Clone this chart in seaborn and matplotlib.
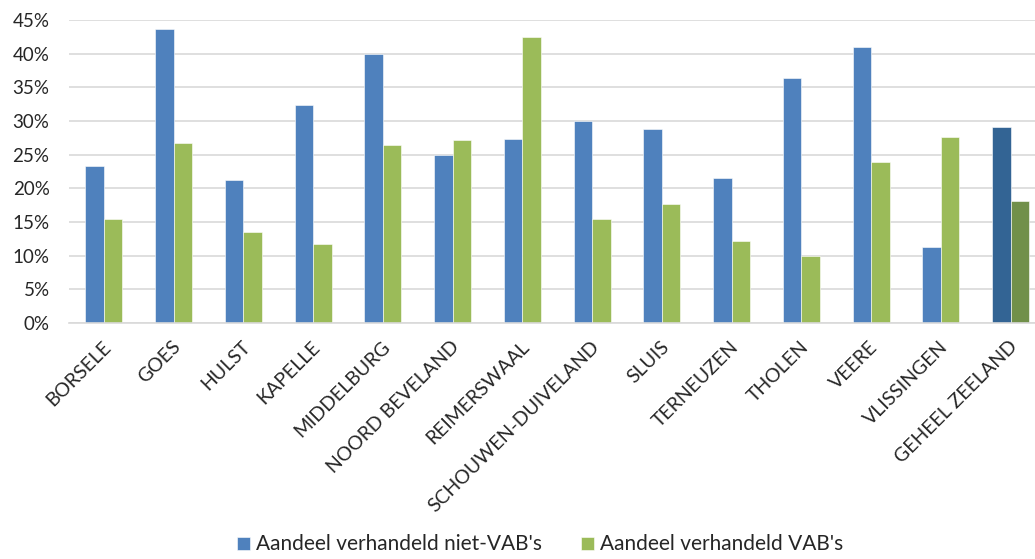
import matplotlib
matplotlib.use("Agg")
import matplotlib.pyplot as plt
import matplotlib.transforms as mtransforms
from matplotlib.ticker import PercentFormatter
import pandas as pd
import seaborn as sns

gemeenten = [
    "BORSELE", "GOES", "HULST", "KAPELLE", "MIDDELBURG", "NOORD BEVELAND",
    "REIMERSWAAL", "SCHOUWEN-DUIVELAND", "SLUIS", "TERNEUZEN", "THOLEN",
    "VEERE", "VLISSINGEN", "GEHEEL ZEELAND",
]
niet_vab = [23.4, 43.7, 21.2, 32.4, 40.0, 24.9, 27.4, 30.0, 28.9, 21.5, 36.4, 41.0, 11.3, 29.2]
vab = [15.5, 26.7, 13.5, 11.8, 26.5, 27.2, 42.5, 15.5, 17.7, 12.2, 9.9, 24.0, 27.7, 18.2]
reeksen = ["Aandeel verhandeld niet-VAB's", "Aandeel verhandeld VAB's"]

df = pd.DataFrame({
    "gemeente": gemeenten * 2,
    "aandeel": [v / 100 for v in niet_vab + vab],
    "reeks": [reeksen[0]] * len(gemeenten) + [reeksen[1]] * len(gemeenten),
})

blue, green = "#4F81BD", "#9BBB59"
blue_dark, green_dark = "#336494", "#71904A"

sns.set_theme(style="white")
plt.rcParams["font.family"] = ["Lato", "DejaVu Sans"]

fig = plt.figure(figsize=(10.35, 5.59), dpi=100)
ax = fig.add_axes([0.0667, 0.422, 0.9333, 0.542])

sns.barplot(data=df, x="gemeente", y="aandeel", hue="reeks",
            palette=[blue, green], saturation=1, width=0.53, gap=0, ax=ax,
            edgecolor="white", linewidth=0.4)

# totaal voor heel Zeeland donkerder
ax.containers[0][-1].set_facecolor(blue_dark)
ax.containers[1][-1].set_facecolor(green_dark)

ax.set_ylim(0, 0.45)
ax.set_xlim(-0.5, 13.35)
ax.set_yticks([i / 100 for i in range(0, 46, 5)])
ax.yaxis.set_major_formatter(PercentFormatter(1.0, decimals=0))
ax.grid(axis="y", color="#D9D9D9", linewidth=1.2)
ax.set_axisbelow(True)
for s in ["left", "right", "top"]:
    ax.spines[s].set_visible(False)
ax.spines["bottom"].set_color("#D9D9D9")
ax.spines["bottom"].set_linewidth(1.2)
ax.set_xlabel("")
ax.set_ylabel("")
ax.tick_params(axis="both", length=0, colors="#262626")
ax.tick_params(axis="y", pad=14, labelsize=13.5)
ax.tick_params(axis="x", pad=15, labelsize=14)

offset = mtransforms.ScaledTranslation(3 / 72, 0, fig.dpi_scale_trans)
for lbl in ax.get_xticklabels():
    lbl.set_rotation(45)
    lbl.set_ha("right")
    lbl.set_va("center")
    lbl.set_rotation_mode("anchor")
    lbl.set_transform(lbl.get_transform() + offset)

handles, labels = ax.get_legend_handles_labels()
ax.get_legend().remove()
fig.legend(handles, labels, loc="center", bbox_to_anchor=(0.522, 0.026),
           ncol=2, frameon=False, fontsize=15, handlelength=0.6,
           handleheight=0.6, handletextpad=0.3, columnspacing=1.9)

fig.savefig("out.png", dpi=100)
